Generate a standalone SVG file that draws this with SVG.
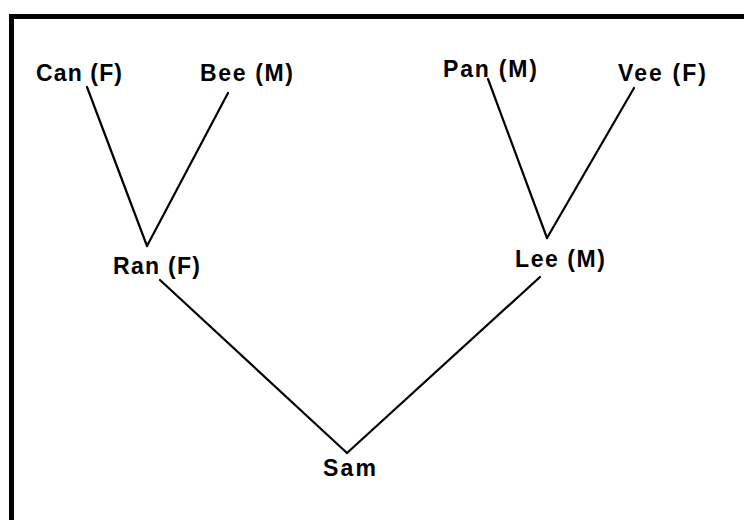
<svg xmlns="http://www.w3.org/2000/svg" width="744" height="520" viewBox="0 0 744 520">
<style>
.lbl{font-family:"Liberation Sans",Arial,sans-serif;font-weight:bold;font-size:23px;fill:#000}
.edge{stroke:#000;stroke-width:2.2;fill:none;stroke-linecap:round}
</style>
<rect x="0" y="0" width="744" height="520" fill="#fff"/>
<path d="M11.5 520 V16.5 H744" stroke="#000" stroke-width="5" fill="none"/>
<g id="connectors">
<line class="edge" x1="87" y1="87" x2="147" y2="246"/>
<line class="edge" x1="228" y1="93" x2="147" y2="246"/>
<line class="edge" x1="488" y1="79" x2="547" y2="238"/>
<line class="edge" x1="634" y1="88" x2="547" y2="238"/>
<line class="edge" x1="160" y1="280" x2="347" y2="453"/>
<line class="edge" x1="540" y1="277" x2="347" y2="453"/>
</g>
<g id="can"><text class="lbl" x="36" y="81" textLength="86" lengthAdjust="spacing">Can (F)</text></g>
<g id="bee"><text class="lbl" x="200" y="81" textLength="93" lengthAdjust="spacing">Bee (M)</text></g>
<g id="pan"><text class="lbl" x="443" y="77" textLength="94" lengthAdjust="spacing">Pan (M)</text></g>
<g id="vee"><text class="lbl" x="618" y="81" textLength="88" lengthAdjust="spacing">Vee (F)</text></g>
<g id="ran"><text class="lbl" x="113" y="274" textLength="87" lengthAdjust="spacing">Ran (F)</text></g>
<g id="lee"><text class="lbl" x="515" y="267" textLength="90" lengthAdjust="spacing">Lee (M)</text></g>
<g id="sam"><text class="lbl" x="323" y="476" textLength="53" lengthAdjust="spacing">Sam</text></g>
</svg>
